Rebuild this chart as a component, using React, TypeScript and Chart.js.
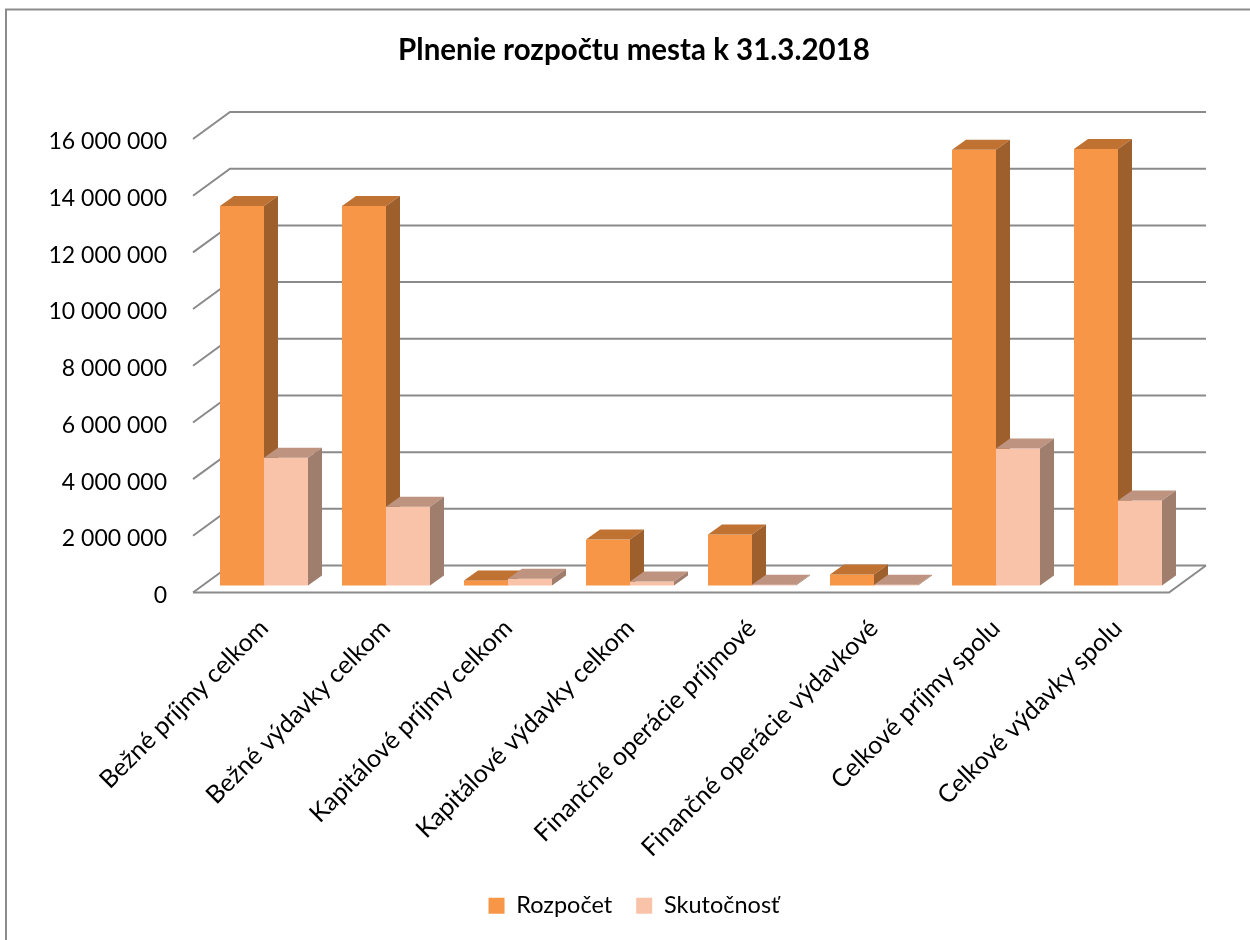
import React, { useEffect, useRef } from "react";
import { Chart, registerables } from "chart.js";

Chart.register(...registerables);

const titleText = "Plnenie rozpočtu mesta k 31.3.2018";
const categories = [
  "Bežné príjmy celkom",
  "Bežné výdavky celkom",
  "Kapitálové príjmy celkom",
  "Kapitálové výdavky celkom",
  "Finančné operácie príjmové",
  "Finančné operácie výdavkové",
  "Celkové príjmy spolu",
  "Celkové výdavky spolu",
];
const rozpocet = [13390000, 13390000, 180000, 1620000, 1800000, 390000, 15370000, 15400000];
const skutocnost = [4510000, 2780000, 240000, 140000, 30000, 25000, 4830000, 3000000];
const seriesNames = ["Rozpočet", "Skutočnosť"];
const yMax = 16000000;
const yStep = 2000000;

const FRONT = ["#F79646", "#F9C3A9"];
const TOP = ["#C07233", "#BE9380"];
const SIDE = ["#9D5F2B", "#A07E6E"];

const DF = { x: -10, y: 7 }; // bar plane -> front of floor
const DB = { x: 27, y: -20 }; // bar plane -> back wall
const BD = { x: 14, y: -10 }; // bar depth

const fmt = (v: number) => String(v).replace(/\B(?=(\d{3})+(?!\d))/g, " ");

const threeD = {
  id: "threeD",
  beforeDraw(chart: any) {
    const ctx = chart.ctx;
    ctx.save();
    ctx.strokeStyle = "#8c8c8c";
    ctx.lineWidth = 2;
    ctx.beginPath();
    ctx.moveTo(6, 940);
    ctx.lineTo(6, 9.5);
    ctx.lineTo(1250, 9.5);
    ctx.stroke();
    ctx.restore();
  },
  beforeDatasetsDraw(chart: any) {
    const { ctx, chartArea: a } = chart;
    const y = chart.scales.y;
    ctx.save();
    ctx.strokeStyle = "#8a8a8a";
    ctx.lineWidth = 2;
    y.ticks.forEach((t: any) => {
      const py = y.getPixelForValue(t.value);
      ctx.beginPath();
      ctx.moveTo(a.left + DF.x, py + DF.y);
      ctx.lineTo(a.left + DB.x, py + DB.y);
      ctx.lineTo(a.right + DB.x, py + DB.y);
      ctx.stroke();
    });
    const p0 = y.getPixelForValue(0);
    ctx.beginPath();
    ctx.moveTo(a.left + DF.x, p0 + DF.y);
    ctx.lineTo(a.right + DF.x, p0 + DF.y);
    ctx.lineTo(a.right + DB.x, p0 + DB.y);
    ctx.stroke();

    const metas = chart.getSortedVisibleDatasetMetas();
    for (let i = 0; i < categories.length; i++) {
      metas.forEach((meta: any) => {
        const el = meta.data[i];
        if (!el) return;
        const d = meta.index;
        const l = el.x - el.width / 2;
        const r = el.x + el.width / 2;
        const top = Math.min(el.y, el.base);
        const base = Math.max(el.y, el.base);
        ctx.fillStyle = FRONT[d];
        ctx.fillRect(l, top, r - l, base - top);
        ctx.fillStyle = TOP[d];
        ctx.beginPath();
        ctx.moveTo(l, top);
        ctx.lineTo(l + BD.x, top + BD.y);
        ctx.lineTo(r + BD.x, top + BD.y);
        ctx.lineTo(r, top);
        ctx.closePath();
        ctx.fill();
        ctx.fillStyle = SIDE[d];
        ctx.beginPath();
        ctx.moveTo(r, top);
        ctx.lineTo(r + BD.x, top + BD.y);
        ctx.lineTo(r + BD.x, base + BD.y);
        ctx.lineTo(r, base);
        ctx.closePath();
        ctx.fill();
      });
    }
    ctx.restore();
    return false;
  },
};

export default function App() {
  const ref = useRef<HTMLCanvasElement>(null);
  useEffect(() => {
    const chart = new Chart(ref.current as HTMLCanvasElement, {
      type: "bar",
      data: {
        labels: categories,
        datasets: [
          { label: seriesNames[0], data: rozpocet, backgroundColor: FRONT[0], borderWidth: 0 },
          { label: seriesNames[1], data: skutocnost, backgroundColor: FRONT[1], borderWidth: 0 },
        ],
      },
      options: {
        responsive: false,
        animation: false,
        layout: { padding: { left: 18, right: 0, top: 0, bottom: 12.5 } },
        datasets: { bar: { categoryPercentage: 0.7213, barPercentage: 1 } },
        plugins: {
          title: {
            display: true,
            text: titleText,
            color: "#000",
            font: { family: "Lato", size: 29.5, weight: "bold" },
            padding: { top: 33, bottom: 63.6 },
          },
          legend: {
            position: "bottom",
            labels: {
              color: "#000",
              font: { family: "Lato", size: 23.5 },
              boxWidth: 16,
              boxHeight: 16,
              padding: 24,
            },
          },
          tooltip: { enabled: false },
        },
        scales: {
          x: {
            grid: { display: false },
            border: { display: false },
            ticks: {
              color: "#000",
              font: { family: "Lato", size: 25 },
              minRotation: 45,
              maxRotation: 45,
              autoSkip: false,
              padding: 20,
            },
            afterFit(scale: any) {
              scale.height = 284.5;
            },
          },
          y: {
            min: 0,
            max: yMax,
            grid: { display: false },
            border: { display: false },
            ticks: {
              stepSize: yStep,
              color: "#000",
              font: { family: "Lato", size: 23 },
              padding: 28,
              labelOffset: 10,
              callback: (v: any) => fmt(Number(v)),
            },
            afterFit(scale: any) {
              scale.width = 185;
            },
          },
          yRight: {
            position: "right",
            display: true,
            grid: { display: false },
            border: { display: false },
            ticks: { display: false },
            afterFit(scale: any) {
              scale.width = 71;
            },
          },
        },
      },
      plugins: [threeD],
    } as any);
    return () => chart.destroy();
  }, []);
  return (
    <div style={{ position: "absolute", left: 0, top: 0, width: 1250, height: 940, background: "#fff" }}>
      <canvas ref={ref} width={1250} height={940} style={{ display: "block" }} />
    </div>
  );
}
